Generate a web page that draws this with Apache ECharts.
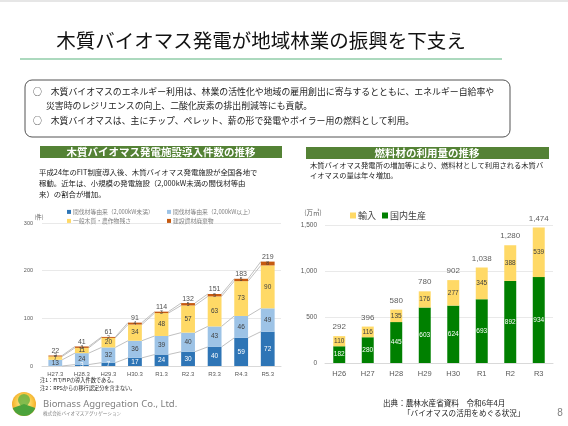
<!DOCTYPE html>
<html><head><meta charset="utf-8">
<script src="https://cdn.jsdelivr.net/npm/echarts@6/dist/echarts.min.js"></script>
<style>html,body{margin:0;padding:0;background:#fff}#c{width:568px;height:426px}</style>
</head><body><div id="c"></div>
<script>
// ---- Left chart data: 木質バイオマス発電施設導入件数 ----
const leftCats = ['H27.3','H28.3','H29.3','H30.3','R1.3','R2.3','R3.3','R4.3','R5.3'];
const smallThin = [0, 3, 7, 17, 24, 30, 40, 59, 72];      // 間伐材等由来（2,000kW未満）
const largeThin = [13, 24, 32, 36, 39, 40, 43, 46, 49];   // 間伐材等由来（2,000kW以上）
const generalWood = [7, 11, 20, 34, 48, 57, 63, 73, 90];  // 一般木質・農作物残さ
const construction = [2, 3, 2, 4, 3, 5, 5, 5, 8];         // 建設資材廃棄物
const leftTotals = [22, 41, 61, 91, 114, 132, 151, 183, 219];
const leftTicks = [0, 100, 200, 300];

// ---- Right chart data: 燃料材の利用量 ----
const rightCats = ['H26','H27','H28','H29','H30','R1','R2','R3'];
const domestic = [182, 280, 445, 603, 624, 693, 892, 934]; // 国内生産
const imported = [110, 116, 135, 176, 277, 345, 388, 539]; // 輸入
const rightTotals = [292, 396, 580, 780, 902, 1038, 1280, 1474];
const rightTicks = [0, 500, 1000, 1500];

const JP = '"Noto Sans CJK JP", "Noto Sans", sans-serif';
const C = {dark:'#2E75B6', light:'#9DC3E6', yellow:'#FFD966', orange:'#C55A11', green:'#008000'};

function cum(arrs){ return arrs[0].map((_,i)=>arrs.reduce((s,a)=>s+a[i],0)); }
const c1 = cum([smallThin]), c2 = cum([smallThin,largeThin]), c3 = cum([smallThin,largeThin,generalWood]), c4 = cum([smallThin,largeThin,generalWood,construction]);
function segData(c){ return c.slice(0,-1).map((v,i)=>[i, v, c[i+1]]); }
function seriesLine(c){
  return {type:'custom', xAxisIndex:0, yAxisIndex:0, z:1, silent:true,
    encode:{x:0, y:[1,2]}, data: segData(c),
    renderItem:(params, api)=>{
      const i = api.value(0);
      const p1 = api.coord([i, api.value(1)]);
      const p2 = api.coord([i+1, api.value(2)]);
      const half = api.size([1,0])[0]*0.26;
      return {type:'line', shape:{x1:p1[0]+half, y1:p1[1], x2:p2[0]-half, y2:p2[1]},
        style:{stroke:'#b0b0b0', lineWidth:0.8}};
    }};
}
function lbl(color, size){ return {show:true, position:'inside', color, fontSize:size, fontFamily:'"Liberation Sans", sans-serif',
  formatter:p=> p.value>0 ? p.value : ''}; }

function txt(text, x, y, size, opt){
  opt = opt || {};
  return {type:'text', x, y, silent:true, z:100, style:Object.assign({text, fontSize:size, fontFamily:JP, fill:'#222',
    textAlign:'left', textVerticalAlign:'middle'}, opt)};
}

const chart = echarts.init(document.getElementById('c'), null, {renderer:'canvas'});
const option = {
  animation:false,
  backgroundColor:'#fff',
  grid:[
    {left:42, right:287, top:223, bottom:60},
    {left:325, right:15, top:225, bottom:63}
  ],
  xAxis:[
    {type:'category', gridIndex:0, data:leftCats, axisTick:{show:false},
      axisLine:{lineStyle:{color:'#d9d9d9'}}, axisLabel:{color:'#595959', fontSize:6, margin:5, fontFamily:'"Liberation Sans", sans-serif'}},
    {type:'category', gridIndex:1, data:rightCats, axisTick:{show:false},
      axisLine:{lineStyle:{color:'#d9d9d9'}}, axisLabel:{color:'#595959', fontSize:7.5, margin:7, fontFamily:'"Liberation Sans", sans-serif'}}
  ],
  yAxis:[
    {type:'value', gridIndex:0, min:leftTicks[0], max:leftTicks[leftTicks.length-1], interval:100,
      axisLine:{show:false}, axisTick:{show:false}, splitLine:{lineStyle:{color:'#e3e3e3', width:0.8}},
      axisLabel:{color:'#595959', fontSize:5.5, margin:9, fontFamily:'"Liberation Sans", sans-serif'}},
    {type:'value', gridIndex:1, min:rightTicks[0], max:rightTicks[rightTicks.length-1], interval:500,
      axisLine:{show:false}, axisTick:{show:false}, splitLine:{lineStyle:{color:'#e3e3e3', width:0.8}},
      axisLabel:{color:'#595959', fontSize:6.5, margin:8, fontFamily:'"Liberation Sans", sans-serif',
        formatter:v=>v.toLocaleString('en-US')}}
  ],
  legend:[
    {left:62, top:204, itemWidth:4, itemHeight:4, icon:'rect', data:['間伐材等由来（2,000kW未満）'], textStyle:{fontSize:5.8, color:'#7f7f7f', fontFamily:JP, padding:[0,0,0,-3]}},
    {left:162, top:204, itemWidth:4, itemHeight:4, icon:'rect', data:['間伐材等由来（2,000kW以上）'], textStyle:{fontSize:5.8, color:'#7f7f7f', fontFamily:JP, padding:[0,0,0,-3]}},
    {left:62, top:213, itemWidth:4, itemHeight:4, icon:'rect', data:['一般木質・農作物残さ'], textStyle:{fontSize:5.8, color:'#7f7f7f', fontFamily:JP, padding:[0,0,0,-3]}},
    {left:162, top:213, itemWidth:4, itemHeight:4, icon:'rect', data:['建設資材廃棄物'], textStyle:{fontSize:5.8, color:'#7f7f7f', fontFamily:JP, padding:[0,0,0,-3]}},
    {left:345, top:206, itemWidth:6, itemHeight:6, itemGap:6, icon:'rect', data:['輸入','国内生産'], textStyle:{fontSize:9, color:'#404040', fontFamily:JP, padding:[0,0,0,-3]}}
  ],
  series:[
    seriesLine(c1), seriesLine(c2), seriesLine(c3), seriesLine(c4),
    {name:'間伐材等由来（2,000kW未満）', type:'bar', stack:'L', xAxisIndex:0, yAxisIndex:0, barWidth:'52%', z:2,
      itemStyle:{color:C.dark}, label:lbl('#ffffff',6.5), data:smallThin},
    {name:'間伐材等由来（2,000kW以上）', type:'bar', stack:'L', xAxisIndex:0, yAxisIndex:0, z:2,
      itemStyle:{color:C.light}, label:lbl('#404040',6.5), data:largeThin},
    {name:'一般木質・農作物残さ', type:'bar', stack:'L', xAxisIndex:0, yAxisIndex:0, z:2,
      itemStyle:{color:C.yellow}, label:lbl('#404040',6.5), data:generalWood},
    {name:'建設資材廃棄物', type:'bar', stack:'L', xAxisIndex:0, yAxisIndex:0, z:2,
      itemStyle:{color:C.orange}, label:lbl('#404040',5), data:construction},
    {type:'scatter', xAxisIndex:0, yAxisIndex:0, symbolSize:0, silent:true, z:5,
      label:{show:true, position:'top', distance:1, color:'#222', fontSize:7, fontFamily:'"Liberation Sans", sans-serif', formatter:p=>p.value},
      data:leftTotals},
    {name:'国内生産', type:'bar', stack:'R', xAxisIndex:1, yAxisIndex:1, barWidth:'42%',
      itemStyle:{color:C.green}, label:lbl('#ffffff',6.5), data:domestic},
    {name:'輸入', type:'bar', stack:'R', xAxisIndex:1, yAxisIndex:1,
      itemStyle:{color:C.yellow}, label:lbl('#404040',6.5), data:imported},
    {type:'scatter', xAxisIndex:1, yAxisIndex:1, symbolSize:0, silent:true, z:5,
      label:{show:true, position:'top', distance:5, color:'#333', fontSize:8, fontFamily:'"Liberation Sans", sans-serif',
        formatter:p=>p.value.toLocaleString('en-US')},
      data:rightTotals}
  ],
  graphic:[
    {type:'rect', shape:{x:0, y:0, width:568, height:2}, style:{fill:'#e6e6e6'}, silent:true},
    txt('木質バイオマス発電が地域林業の振興を下支え', 261, 41, 19.5, {textAlign:'center', fill:'#111'}),
    {type:'line', shape:{x1:20, y1:59, x2:502, y2:59}, style:{stroke:'#5BB47F', lineWidth:1.2}, silent:true},
    {type:'rect', shape:{x:25, y:80, width:485, height:57, r:7}, style:{fill:'none', stroke:'#404040', lineWidth:0.9}, silent:true},
    txt('○　木質バイオマスのエネルギー利用は、林業の活性化や地域の雇用創出に寄与するとともに、エネルギー自給率や', 33, 92, 8.9),
    txt('災害時のレジリエンスの向上、二酸化炭素の排出削減等にも貢献。', 46, 106, 8.9),
    txt('○　木質バイオマスは、主にチップ、ペレット、薪の形で発電やボイラー用の燃料として利用。', 33, 121, 8.9),
    {type:'rect', shape:{x:40, y:146, width:242, height:12}, style:{fill:'#548235'}, silent:true},
    txt('木質バイオマス発電施設導入件数の推移', 161, 152, 10.5, {textAlign:'center', fill:'#fff', fontWeight:'bold'}),
    {type:'rect', shape:{x:306, y:147, width:243, height:12}, style:{fill:'#548235'}, silent:true},
    txt('燃料材の利用量の推移', 427, 153, 10.5, {textAlign:'center', fill:'#fff', fontWeight:'bold'}),
    txt('平成24年のFIT制度導入後、木質バイオマス発電施設が全国各地で', 39, 172, 7.4),
    txt('稼動。近年は、小規模の発電施設（2,000kW未満の間伐材等由', 39, 183, 7.4),
    txt('来）の割合が増加。', 39, 194, 7.4),
    txt('(件)', 39, 217, 5.5, {textAlign:'center', fill:'#595959'}),
    txt('木質バイオマス発電所の増加等により、燃料材として利用される木質バ', 310, 165, 7.3),
    txt('イオマスの量は年々増加。', 310, 175, 7.3),
    txt('(万㎥)', 313, 213, 6.5, {textAlign:'center', fill:'#595959'}),
    txt('注1：FIT/FIPの導入件数である。', 40, 380, 5.2),
    txt('注2：RPSからの移行認定分を含まない。', 40, 388, 5.2),
    {type:'circle', shape:{cx:24, cy:404, r:12}, style:{fill:new echarts.graphic.RadialGradient(0.5,0.45,0.6,[{offset:0,color:'#FFF3B0'},{offset:0.6,color:'#F9C846'},{offset:1,color:'#EE9A1E'}])}, silent:true},
    {type:'circle', shape:{cx:24, cy:400, r:6}, style:{fill:'#6DB33F', opacity:0.85}, silent:true},
    {type:'sector', shape:{cx:24, cy:404, r:12, r0:0, startAngle:0.35, endAngle:Math.PI-0.35}, style:{fill:'#4CA33B'}, silent:true},
    txt('Biomass Aggregation Co., Ltd.', 43, 404, 9.5, {fill:'#808080', fontFamily:'"Noto Sans", sans-serif'}),
    txt('株式会社バイオマスアグリゲーション', 43, 413, 4.6, {fill:'#808080'}),
    txt('出典：農林水産省資料　令和6年4月', 383, 403, 7.6),
    txt('「バイオマスの活用をめぐる状況」', 403, 413, 7.6),
    txt('8', 560, 413, 10, {textAlign:'center', fill:'#808080', fontFamily:'"Liberation Sans", sans-serif'})
  ]
};
chart.setOption(option);
</script></body></html>
